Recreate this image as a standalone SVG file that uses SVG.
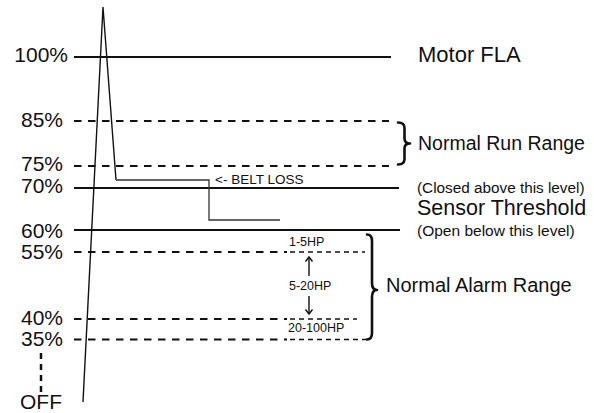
<svg xmlns="http://www.w3.org/2000/svg" width="594" height="413" viewBox="0 0 594 413">
<style>
text{font-family:"Liberation Sans",Arial,sans-serif;fill:#111}
.pct{font-size:21px;text-anchor:end}
.solid{stroke:#111;stroke-width:2;fill:none}
.dash{stroke:#111;stroke-width:2;fill:none;stroke-dasharray:7.5 6.5}
.fdash{stroke:#111;stroke-width:1.6;fill:none;stroke-dasharray:5 4}
.brace{stroke:#111;stroke-width:2.6;fill:none;stroke-linecap:round;stroke-linejoin:round}
.thin{stroke:#111;stroke-width:1.4;fill:none}
.belt{stroke:#333;stroke-width:1.3;fill:none}
</style>
<rect width="594" height="413" fill="#fff"/>
<g id="levels">
<g id="l100"><text class="pct" x="68" y="62">100%</text><line class="solid" x1="74" y1="57" x2="391" y2="57"/></g>
<g id="l85"><text class="pct" x="63" y="127">85%</text><line class="dash" x1="74" y1="121" x2="389" y2="121"/></g>
<g id="l75"><text class="pct" x="63" y="171">75%</text><line class="dash" x1="74" y1="166" x2="389" y2="166"/></g>
<g id="l70"><text class="pct" x="63" y="193">70%</text><line class="solid" x1="74" y1="188" x2="399" y2="188"/></g>
<g id="l60"><text class="pct" x="63" y="237.5">60%</text><line class="solid" x1="74" y1="230" x2="400" y2="230"/></g>
<g id="l55"><text class="pct" x="63" y="259">55%</text><line class="dash" x1="74" y1="252" x2="287" y2="252"/><line class="fdash" x1="290" y1="252" x2="365" y2="252"/></g>
<g id="l40"><text class="pct" x="63" y="325">40%</text><line class="dash" x1="74" y1="319" x2="287" y2="319"/><line class="fdash" x1="290" y1="319" x2="357" y2="319"/></g>
<g id="l35"><text class="pct" x="63" y="346">35%</text><line class="dash" x1="74" y1="339.5" x2="287" y2="339.5"/><line class="fdash" x1="290" y1="339.5" x2="366" y2="339.5"/></g>
<g id="off"><text class="pct" x="62" y="408.5">OFF</text><line x1="41" y1="353" x2="41" y2="392" stroke="#111" stroke-width="2.5" stroke-dasharray="6 5"/></g>
</g>
<g id="connectors">
<polyline class="thin" points="83,402 103,7 116,180"/>
<polyline class="belt" points="116,180 209,180 209,220 280,220"/>
<line class="thin" x1="309" y1="257" x2="309" y2="276"/>
<polyline class="thin" points="305.5,261.5 309,257 312.5,261.5"/>
<line class="thin" x1="309" y1="296" x2="309" y2="314"/>
<polyline class="thin" points="305.5,309.5 309,314 312.5,309.5"/>
</g>
<g id="belt-label"><text x="215" y="184" font-size="13.5">&lt;- BELT LOSS</text></g>
<g id="motor-fla"><text x="418" y="62" font-size="22">Motor FLA</text></g>
<g id="run-range">
<path class="brace" d="M398,122.5 Q404.5,122.5 404.5,128 L404.5,138.5 Q404.5,143.5 410,143.5 Q404.5,143.5 404.5,148.5 L404.5,159 Q404.5,164.5 398,164.5"/>
<text x="418" y="150" font-size="19.5">Normal Run Range</text>
</g>
<g id="threshold">
<text x="417" y="192.5" font-size="15.3">(Closed above this level)</text>
<text x="417" y="215" font-size="21.5">Sensor Threshold</text>
<text x="417" y="236" font-size="15.5">(Open below this level)</text>
</g>
<g id="alarm-range">
<path class="brace" stroke-width="3" d="M367,234.5 Q372,234.5 372,241 L372,283 Q372,290 377,290 Q372,290 372,297 L372,333 Q372,339.5 367,339.5"/>
<text x="386" y="292" font-size="20">Normal Alarm Range</text>
<text x="289" y="246" font-size="12.5">1-5HP</text>
<text x="289" y="290" font-size="12.5">5-20HP</text>
<text x="288" y="332" font-size="12.5">20-100HP</text>
</g>
</svg>
